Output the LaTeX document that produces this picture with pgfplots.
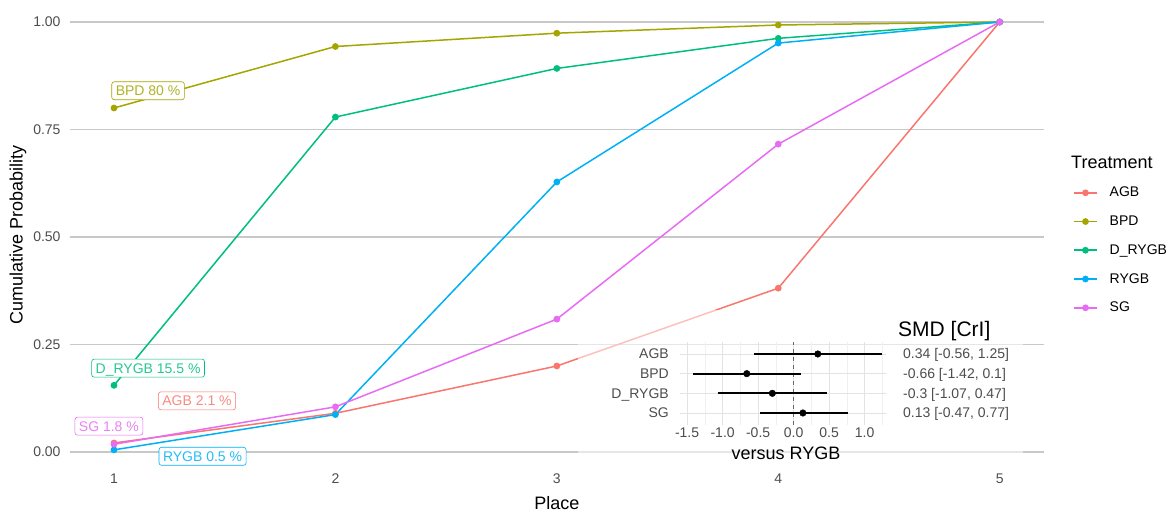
\documentclass[border=0pt]{standalone}
\usepackage{pgfplots}
\pgfplotsset{compat=1.18}
\usepackage{fontspec}
\setmainfont{Liberation Sans}
\definecolor{cAGB}{HTML}{F8766D}
\definecolor{cBPD}{HTML}{A3A500}
\definecolor{cDRYGB}{HTML}{00BF7D}
\definecolor{cRYGB}{HTML}{00B0F6}
\definecolor{cSG}{HTML}{E76BF3}
\definecolor{tickgrey}{HTML}{4D4D4D}
\definecolor{gridgrey}{HTML}{C8C8C8}
\newcommand{\fs}[1]{\fontsize{#1}{#1}\selectfont}
\tikzset{lbl/.style={draw=#1, fill=white, text=#1!85!white, rounded corners=2.5pt, line width=0.6pt,
  inner xsep=4pt, inner ysep=4pt, text height=10pt, text depth=0pt, font=\fs{14}}}
\begin{document}
\begin{tikzpicture}
\path[use as bounding box] (0,0) rectangle (1168pt,513pt);
\begin{axis}[
 at={(69.7pt,39.5pt)}, anchor=south west, scale only axis, width=974.3pt, height=473pt,
 xmin=0.8,xmax=5.2,ymin=-0.05,ymax=1.05,
 axis line style={draw=none}, tick style={draw=none},
 xtick={1,2,3,4,5}, xticklabels={1,2,3,4,5},
 ytick={0,0.25,0.5,0.75,1}, yticklabels={0.00,0.25,0.50,0.75,1.00},
 ymajorgrids, grid style={gridgrey, line width=1.1pt},
 ticklabel style={font=\fs{14}, text=tickgrey, inner sep=0pt, text height=10pt, text depth=0pt},
 xticklabel style={anchor=north},
 yticklabel style={anchor=east, xshift=-9pt},
 xlabel={Place}, ylabel={Cumulative Probability},
 label style={font=\fs{18}},
 xlabel style={at={(axis description cs:0.5,-0.0624)}, anchor=center},
 ylabel style={at={(axis description cs:-0.0531,0.504)}, anchor=center},
 clip=false,
 legend style={draw=none, fill=none, at={(axis description cs:1.0298,0.6057)}, anchor=north west,
   font=\fs{14}, row sep=17.5pt, inner sep=0pt, nodes={inner sep=0pt},
   /tikz/every odd column/.append style={column sep=12pt}},
 legend cell align=left,
 legend image code/.code={\draw[mark repeat=2,mark phase=2] plot coordinates {(0pt,0pt)(11.5pt,0pt)(23pt,0pt)};},
 every axis plot/.append style={line width=1.5pt, mark=*, mark size=2.6pt},
]
\addplot[cAGB, mark options={fill=cAGB}] coordinates {(1,0.021)(2,0.09)(3,0.20)(4,0.381)(5,1)};
\addlegendentry{AGB}
\addplot[cBPD, mark options={fill=cBPD}] coordinates {(1,0.80)(2,0.943)(3,0.974)(4,0.993)(5,1)};
\addlegendentry{BPD}
\addplot[cDRYGB, mark options={fill=cDRYGB}] coordinates {(1,0.155)(2,0.779)(3,0.892)(4,0.962)(5,1)};
\addlegendentry{D\_RYGB}
\addplot[cRYGB, mark options={fill=cRYGB}] coordinates {(1,0.005)(2,0.087)(3,0.628)(4,0.951)(5,1)};
\addlegendentry{RYGB}
\addplot[cSG, mark options={fill=cSG}] coordinates {(1,0.018)(2,0.105)(3,0.309)(4,0.716)(5,1)};
\addlegendentry{SG}
\fill[white, fill opacity=0.55] (axis cs:3.095,-0.05) rectangle (axis cs:5.104,0.33);
\node[lbl=cBPD] at (axis cs:1.154,0.84) {BPD 80 \%};
\node[lbl=cDRYGB] at (axis cs:1.154,0.195) {D\_RYGB 15.5 \%};
\node[lbl=cAGB] at (axis cs:1.375,0.119) {AGB 2.1 \%};
\node[lbl=cSG] at (axis cs:0.977,0.06) {SG 1.8 \%};
\node[lbl=cRYGB] at (axis cs:1.40,-0.01) {RYGB 0.5 \%};
\end{axis}
\begin{axis}[
 at={(680pt,88.2pt)}, anchor=south west, scale only axis, width=206pt, height=82.6pt,
 xmin=-1.6, xmax=1.3, ymin=0.4, ymax=4.6,
 axis line style={draw=none}, tick style={draw=none},
 xtick={-1.5,-1,-0.5,0,0.5,1}, xticklabels={-1.5,-1.0,-0.5,0.0,0.5,1.0},
 ytick={1,2,3,4}, yticklabels={SG,D\_RYGB,BPD,AGB},
 minor xtick={-1.25,-0.75,-0.25,0.25,0.75,1.25},
 xmajorgrids, ymajorgrids, xminorgrids,
 major grid style={color=black!11, line width=0.7pt}, minor grid style={color=black!6, line width=0.45pt},
 ticklabel style={font=\fs{14}, text=tickgrey, inner sep=0pt, text height=10pt, text depth=0pt},
 xticklabel style={anchor=north, yshift=-3pt},
 yticklabel style={anchor=east, xshift=-11pt},
 clip=false,
]
\addplot[dash pattern=on 4pt off 4pt, color=black!60, line width=0.8pt] coordinates {(0,0.4)(0,4.6)};
\addplot[black, line width=1.7pt] coordinates {(-0.56,4)(1.25,4)};
\addplot[black, line width=1.7pt] coordinates {(-1.42,3)(0.1,3)};
\addplot[black, line width=1.7pt] coordinates {(-1.07,2)(0.47,2)};
\addplot[black, line width=1.7pt] coordinates {(-0.47,1)(0.77,1)};
\addplot[only marks, mark=*, mark size=3.3pt, black] coordinates {(0.34,4)(-0.66,3)(-0.3,2)(0.13,1)};
\tikzset{rl/.style={anchor=west, text=tickgrey, font=\fs{14}, text height=10pt, text depth=0pt, inner sep=0pt, xshift=17pt}}
\node[rl] at (axis cs:1.3,4) {0.34 [-0.56, 1.25]};
\node[rl] at (axis cs:1.3,3) {-0.66 [-1.42, 0.1]};
\node[rl] at (axis cs:1.3,2) {-0.3 [-1.07, 0.47]};
\node[rl] at (axis cs:1.3,1) {0.13 [-0.47, 0.77]};
\end{axis}
\node[anchor=west, font=\fs{21}, inner sep=0pt, text height=15pt, text depth=0pt] at (898pt,184pt) {SMD [CrI]};
\node[font=\fs{18}, inner sep=0pt, text height=13pt, text depth=0pt] at (786pt,60pt) {versus RYGB};
\node[anchor=west, font=\fs{18}, inner sep=0pt, text height=13pt, text depth=0pt] at (1071pt,351pt) {Treatment};
\end{tikzpicture}
\end{document}
